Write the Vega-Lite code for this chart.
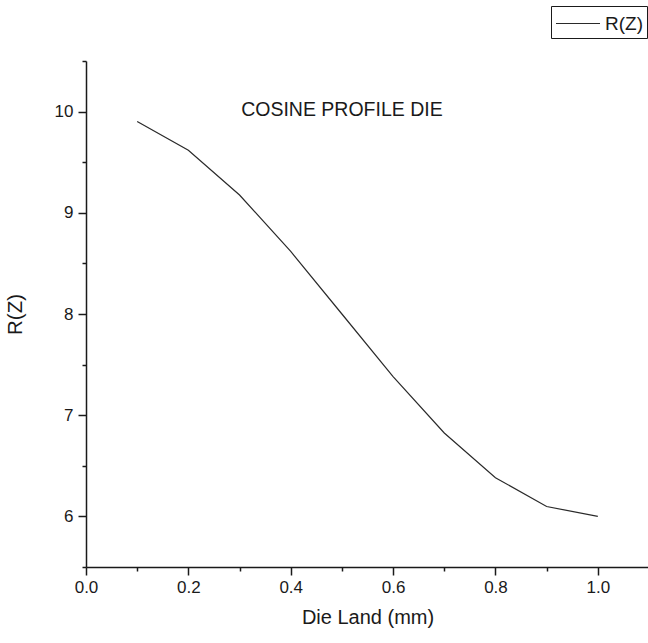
{
  "$schema": "https://vega.github.io/schema/vega-lite/v6.json",
  "width": 563,
  "height": 506,
  "autosize": "none",
  "padding": {"left": 86, "top": 61, "right": 0, "bottom": 76},
  "background": "white",
  "config": {
    "view": {"stroke": null},
    "font": "Liberation Sans",
    "axis": {"grid": false, "labelFlush": false, "labelOverlap": false, "domainColor": "#1a1a1a", "tickColor": "#1a1a1a", "domainWidth": 1.5, "tickWidth": 1.5, "labelColor": "#1a1a1a", "titleColor": "#1a1a1a", "labelFont": "Liberation Sans", "titleFont": "Liberation Sans", "titleFontWeight": "normal"}
  },
  "datasets": {
    "curve": [
      {"z": 0.1, "r": 9.902},
      {"z": 0.2, "r": 9.618},
      {"z": 0.3, "r": 9.176},
      {"z": 0.4, "r": 8.618},
      {"z": 0.5, "r": 8.0},
      {"z": 0.6, "r": 7.382},
      {"z": 0.7, "r": 6.824},
      {"z": 0.8, "r": 6.382},
      {"z": 0.9, "r": 6.098},
      {"z": 1.0, "r": 6.0}
    ],
    "label": [{"z": 0.5, "r": 10.02, "text": "COSINE PROFILE DIE"}]
  },
  "layer": [
    {
      "data": {"name": "curve"},
      "mark": {"type": "line", "strokeWidth": 1.2, "color": "#2a2a2a"},
      "encoding": {
        "x": {"field": "z", "type": "quantitative", "scale": {"domain": [0, 1.1], "nice": false, "zero": false},
          "axis": {"orient": "bottom", "values": [0, 0.2, 0.4, 0.6, 0.8, 1.0], "format": ".1f", "tickSize": 8, "labelFontSize": 17, "labelPadding": 4, "title": "Die Land (mm)", "titleFontSize": 20, "titlePadding": 12}},
        "y": {"field": "r", "type": "quantitative", "scale": {"domain": [5.5, 10.5], "nice": false, "zero": false},
          "axis": {"orient": "left", "values": [6, 7, 8, 9, 10], "format": "d", "tickSize": 8, "labelFontSize": 17, "labelPadding": 5, "title": "R(Z)", "titleFontSize": 20.5, "titlePadding": 29}},
        "color": {"datum": "R(Z)", "type": "nominal", "scale": {"range": ["#2a2a2a"]},
          "legend": {"title": null, "orient": "none", "legendX": 465, "legendY": -55, "symbolType": "M-1,0H2.52", "symbolSize": 625, "symbolStrokeWidth": 1.2, "labelFontSize": 19, "labelFont": "Liberation Sans", "labelColor": "#1a1a1a", "labelOffset": 23, "strokeColor": "#1a1a1a", "padding": 4, "fillColor": "white"}}
      }
    },
    {
      "data": {"name": "curve"},
      "mark": {"type": "point", "opacity": 0},
      "encoding": {
        "x": {"field": "z", "type": "quantitative",
          "axis": {"orient": "bottom", "values": [0.1, 0.3, 0.5, 0.7, 0.9], "labels": false, "domain": false, "tickSize": 4, "title": null}},
        "y": {"field": "r", "type": "quantitative",
          "axis": {"orient": "left", "values": [5.5, 6.5, 7.5, 8.5, 9.5, 10.5], "labels": false, "domain": false, "tickSize": 4, "title": null}}
      }
    },
    {
      "data": {"name": "label"},
      "mark": {"type": "text", "fontSize": 19.5, "font": "Liberation Sans", "color": "#1a1a1a", "baseline": "middle", "align": "center"},
      "encoding": {
        "x": {"field": "z", "type": "quantitative", "axis": null},
        "y": {"field": "r", "type": "quantitative", "axis": null},
        "text": {"field": "text"}
      }
    }
  ],
  "resolve": {"axis": {"x": "independent", "y": "independent"}}
}
